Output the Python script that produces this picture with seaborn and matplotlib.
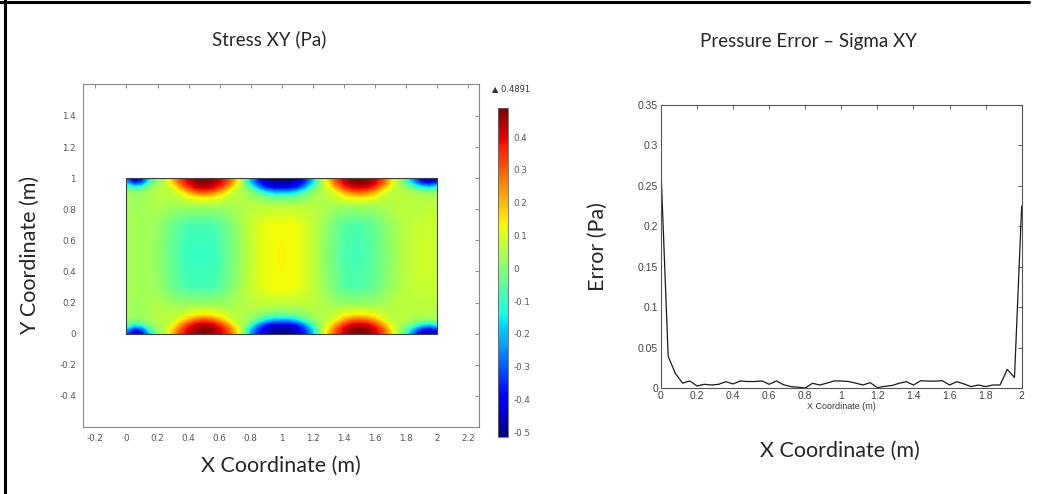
import numpy as np
import matplotlib
matplotlib.use("Agg")
import matplotlib.pyplot as plt
from matplotlib.lines import Line2D
import seaborn as sns

sns.set_style("white")
plt.rcParams["font.family"] = ["Lato", "DejaVu Sans"]

# ---- Stress XY field (bottom half; top is the mirror) ----
field_x = [0.0, 0.05, 0.1, 0.15, 0.2, 0.25, 0.3, 0.35, 0.4, 0.45, 0.5, 0.55, 0.6, 0.65,
           0.7, 0.75, 0.8, 0.85, 0.9, 0.95, 1.0, 1.05, 1.1, 1.15, 1.2, 1.25, 1.3, 1.35,
           1.4, 1.45, 1.5, 1.55, 1.6, 1.65, 1.7, 1.75, 1.8, 1.85, 1.9, 1.95, 2.0]
field_y_half = [0.0, 0.03, 0.06, 0.09, 0.12, 0.18, 0.3, 0.5]
stress_rows = [
    [-0.32, -0.46, -0.42, -0.20, 0.00, 0.06, 0.20, 0.33, 0.42, 0.47, 0.49, 0.47, 0.42, 0.34,
     0.20, 0.02, -0.24, -0.38, -0.46, -0.50, -0.51, -0.50, -0.46, -0.37, -0.22, 0.02, 0.18, 0.32,
     0.42, 0.47, 0.49, 0.47, 0.42, 0.33, 0.18, 0.05, -0.12, -0.30, -0.45, -0.50, -0.42],
    [-0.20, -0.36, -0.30, -0.10, 0.02, 0.06, 0.17, 0.30, 0.40, 0.46, 0.48, 0.46, 0.40, 0.31,
     0.17, 0.02, -0.20, -0.35, -0.44, -0.48, -0.49, -0.48, -0.44, -0.34, -0.18, 0.02, 0.15, 0.29,
     0.40, 0.46, 0.48, 0.46, 0.40, 0.30, 0.15, 0.05, -0.06, -0.22, -0.36, -0.42, -0.34],
    [-0.05, -0.12, -0.10, 0.00, 0.04, 0.06, 0.10, 0.22, 0.33, 0.40, 0.42, 0.40, 0.33, 0.22,
     0.10, 0.03, -0.08, -0.25, -0.36, -0.41, -0.42, -0.41, -0.36, -0.24, -0.08, 0.03, 0.10, 0.21,
     0.32, 0.39, 0.41, 0.39, 0.32, 0.21, 0.10, 0.05, 0.00, -0.06, -0.14, -0.18, -0.12],
    [0.02, 0.00, 0.00, 0.03, 0.05, 0.06, 0.07, 0.12, 0.20, 0.27, 0.30, 0.27, 0.20, 0.12,
     0.07, 0.04, 0.00, -0.08, -0.17, -0.22, -0.23, -0.22, -0.17, -0.08, 0.00, 0.04, 0.07, 0.12,
     0.20, 0.26, 0.29, 0.26, 0.20, 0.12, 0.07, 0.06, 0.05, 0.03, 0.01, 0.00, 0.02],
    [0.04, 0.03, 0.03, 0.04, 0.05, 0.06, 0.06, 0.08, 0.12, 0.14, 0.15, 0.14, 0.12, 0.08,
     0.06, 0.05, 0.03, 0.00, -0.03, -0.05, -0.05, -0.05, -0.03, 0.00, 0.03, 0.05, 0.06, 0.08,
     0.12, 0.14, 0.15, 0.14, 0.12, 0.08, 0.06, 0.06, 0.06, 0.05, 0.05, 0.05, 0.05],
    [0.04, 0.03, 0.03, 0.04, 0.05, 0.04, 0.03, 0.03, 0.03, 0.03, 0.03, 0.03, 0.03, 0.03,
     0.04, 0.05, 0.06, 0.06, 0.06, 0.06, 0.06, 0.06, 0.06, 0.06, 0.06, 0.05, 0.04, 0.03,
     0.03, 0.03, 0.03, 0.03, 0.03, 0.04, 0.05, 0.06, 0.06, 0.06, 0.06, 0.06, 0.06],
    [0.04, 0.04, 0.04, 0.03, 0.02, -0.01, -0.04, -0.06, -0.08, -0.08, -0.08, -0.08, -0.06, -0.03,
     0.01, 0.04, 0.08, 0.10, 0.12, 0.13, 0.13, 0.13, 0.12, 0.10, 0.07, 0.04, 0.00, -0.03,
     -0.06, -0.07, -0.07, -0.06, -0.04, -0.01, 0.02, 0.04, 0.06, 0.07, 0.08, 0.08, 0.08],
    [0.03, 0.04, 0.04, 0.03, 0.01, -0.02, -0.05, -0.08, -0.10, -0.10, -0.10, -0.10, -0.08, -0.04,
     -0.01, 0.03, 0.07, 0.10, 0.12, 0.13, 0.14, 0.13, 0.12, 0.10, 0.07, 0.03, -0.01, -0.04,
     -0.07, -0.08, -0.08, -0.07, -0.05, -0.02, 0.01, 0.04, 0.06, 0.08, 0.09, 0.09, 0.08],
]
stress_min, stress_max = -0.515, 0.4891
cbar_ticks = [-0.5, -0.4, -0.3, -0.2, -0.1, 0, 0.1, 0.2, 0.3, 0.4]

# ---- Pressure error along x ----
err_x = [0.0, 0.04, 0.08, 0.12, 0.16, 0.2, 0.24, 0.28, 0.32, 0.36, 0.4, 0.44, 0.48, 0.52,
         0.56, 0.6, 0.64, 0.68, 0.72, 0.76, 0.8, 0.84, 0.88, 0.92, 0.96, 1.0, 1.04, 1.08,
         1.12, 1.16, 1.2, 1.24, 1.28, 1.32, 1.36, 1.4, 1.44, 1.48, 1.52, 1.56, 1.6, 1.64,
         1.68, 1.72, 1.76, 1.8, 1.84, 1.88, 1.92, 1.96, 2.0]
err_y = [0.27, 0.039, 0.018, 0.006, 0.0087, 0.0025, 0.0046, 0.0037, 0.0046, 0.0078, 0.005,
         0.0087, 0.008, 0.008, 0.0087, 0.0046, 0.0087, 0.004, 0.0017, 0.001, 0.0, 0.0058,
         0.0037, 0.006, 0.0087, 0.0087, 0.008, 0.006, 0.0037, 0.0066, 0.0004, 0.002, 0.003,
         0.0058, 0.0078, 0.0037, 0.009, 0.0085, 0.0085, 0.009, 0.0037, 0.0078, 0.005, 0.0017,
         0.0037, 0.0017, 0.0037, 0.0037, 0.023, 0.013, 0.225]

left_xticks = [-0.2, 0, 0.2, 0.4, 0.6, 0.8, 1, 1.2, 1.4, 1.6, 1.8, 2, 2.2]
left_yticks = [-0.4, -0.2, 0, 0.2, 0.4, 0.6, 0.8, 1, 1.2, 1.4]
right_xticks = [0, 0.2, 0.4, 0.6, 0.8, 1, 1.2, 1.4, 1.6, 1.8, 2]
right_yticks = [0, 0.05, 0.1, 0.15, 0.2, 0.25, 0.3, 0.35]


def fmt(v):
    s = "{:g}".format(round(v, 2))
    return "0" if s == "-0" else s


fig = plt.figure(figsize=(10.45, 4.94), dpi=100)
tick_grey = "#555555"

# ---------------- left: stress field ----------------
ax1 = fig.add_axes([0.0794, 0.1356, 0.3790, 0.6943])
half = np.array(stress_rows)
Z = np.vstack([half, half[-2::-1]])
yy = field_y_half + [1 - v for v in field_y_half[-2::-1]]
X, Y = np.meshgrid(field_x, yy)
levels = np.linspace(stress_min, stress_max, 120)
cs = ax1.contourf(X, Y, np.clip(Z, stress_min, stress_max), levels=levels,
                  cmap="jet", vmin=stress_min, vmax=stress_max)
ax1.plot([0, 2, 2, 0, 0], [0, 0, 1, 1, 0], color="#404040", lw=0.8)
ax1.set_xlim(-0.28, 2.27)
ax1.set_ylim(-0.6, 1.605)
ax1.set_xticks(left_xticks)
ax1.set_xticklabels([fmt(v) for v in left_xticks])
ax1.set_yticks(left_yticks)
ax1.set_yticklabels([fmt(v) for v in left_yticks])
ax1.tick_params(direction="in", length=3, width=0.6, colors="#777777",
                labelcolor=tick_grey, labelsize=6.3, top=True, right=True, pad=5)
for lab in ax1.get_xticklabels() + ax1.get_yticklabels():
    lab.set_family("DejaVu Sans")
for sp in ax1.spines.values():
    sp.set_color("#888888")
    sp.set_linewidth(0.8)
ax1.set_title("Stress XY (Pa)", fontsize=13.5, pad=28, x=0.47)
ax1.set_xlabel("X Coordinate (m)", fontsize=15.5, labelpad=9)
ax1.set_ylabel("Y Coordinate (m)", fontsize=15.5, labelpad=14)

cax = fig.add_axes([0.4766, 0.1154, 0.0096, 0.666])
cb = fig.colorbar(cs, cax=cax, ticks=cbar_ticks)
cb.outline.set_edgecolor("#666666")
cb.outline.set_linewidth(0.6)
cax.set_yticklabels([fmt(v) for v in cbar_ticks])
cax.tick_params(direction="in", length=2, width=0.5, colors="#777777",
                labelcolor=tick_grey, labelsize=6.3, pad=4)
for lab in cax.get_yticklabels():
    lab.set_family("DejaVu Sans")
fig.text(0.4705, 0.82, "\u25B2 0.4891", fontsize=6, color="#333333",
         family="DejaVu Sans", va="center")

# ---------------- right: pressure error ----------------
ax2 = fig.add_axes([0.6325, 0.2146, 0.3452, 0.5729])
sns.lineplot(x=err_x, y=err_y, ax=ax2, color="#1a1a1a", linewidth=0.9)
ax2.set_xlim(0, 2)
ax2.set_ylim(0, 0.35)
ax2.set_xticks(right_xticks)
ax2.set_xticklabels([fmt(v) for v in right_xticks])
ax2.set_yticks(right_yticks)
ax2.set_yticklabels([fmt(v) for v in right_yticks])
ax2.tick_params(direction="in", length=3, width=0.6, colors="#444444",
                labelcolor="#444444", labelsize=7.5, top=True, right=True, pad=2)
for lab in ax2.get_xticklabels() + ax2.get_yticklabels():
    lab.set_family("Liberation Sans")
for sp in ax2.spines.values():
    sp.set_color("#555555")
    sp.set_linewidth(0.8)
ax2.set_xlabel("X Coordinate (m)", fontsize=6.5, family="Liberation Sans",
               color="#333333", labelpad=1)
ax2.set_ylabel("Error (Pa)", fontsize=15.5, labelpad=22)
fig.text(0.7735, 0.915, "Pressure Error \u2013 Sigma XY", fontsize=13.5, ha="center", va="center")
fig.text(0.804, 0.088, "X Coordinate (m)", fontsize=15.5, ha="center", va="center")

# frame of the slide
fig.add_artist(Line2D([0.005, 0.005], [0, 1], color="black", lw=2.2))
fig.add_artist(Line2D([0, 0.985], [0.996, 0.996], color="black", lw=2.2))

fig.savefig("out.png", dpi=100)
